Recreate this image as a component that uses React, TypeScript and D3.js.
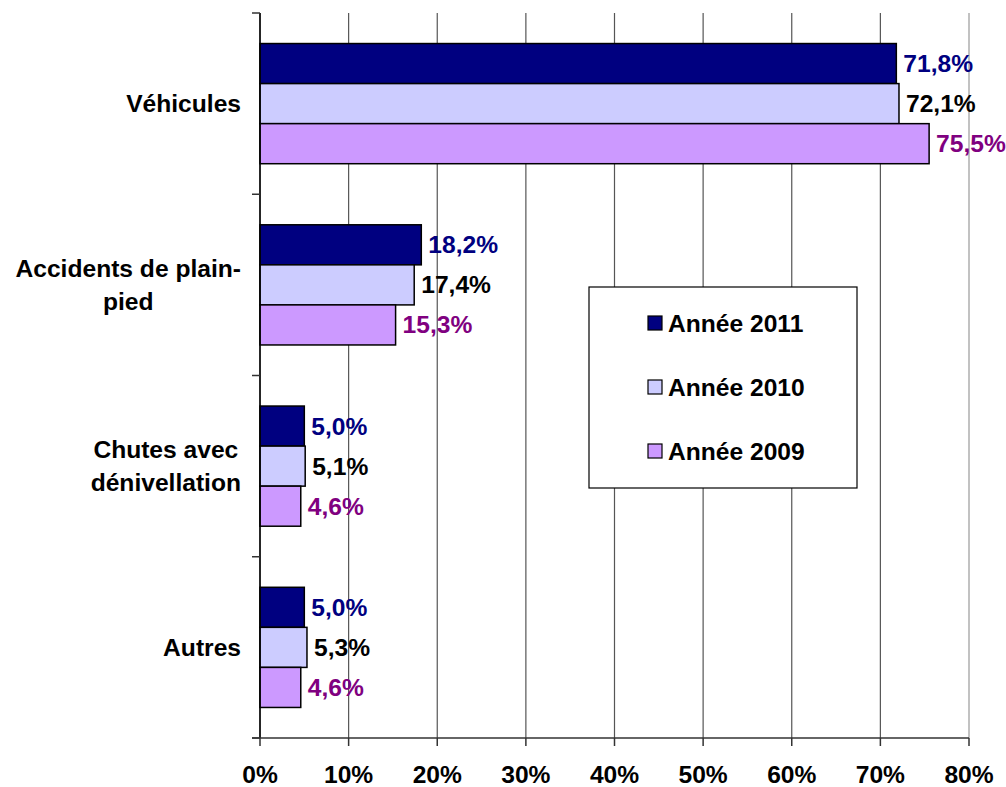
import React from "react";
import * as d3 from "d3";

const categories = ["Véhicules", "Accidents de plain-pied", "Chutes avec dénivellation", "Autres"];
const categoryLines = [["Véhicules"], ["Accidents de plain-", "pied"], ["Chutes avec", "dénivellation"], ["Autres"]];
const series = ["Année 2011", "Année 2010", "Année 2009"];
const values2011 = [71.8, 18.2, 5.0, 5.0];
const values2010 = [72.1, 17.4, 5.1, 5.3];
const values2009 = [75.5, 15.3, 4.6, 4.6];
const xTicks = [0, 10, 20, 30, 40, 50, 60, 70, 80];

const fills = ["#000080", "#CCCCFF", "#CC99FF"];
const labelColors = ["#000080", "#000000", "#800080"];

const FONT = "'Liberation Sans', Arial, sans-serif";
const FS = 24.6;

function measure(txt: string): number {
  const c = document.createElement("canvas").getContext("2d");
  if (!c) return txt.length * 12;
  c.font = `bold ${FS}px 'Liberation Sans', Arial, sans-serif`;
  return c.measureText(txt).width;
}

export default function App() {
  const W = 1006, H = 787;
  const left = 260, right = 969, top = 13, bottom = 738;
  const x = d3.scaleLinear().domain([0, 80]).range([left, right]);
  const y = d3.scaleBand<string>().domain(categories).range([top, bottom]).paddingInner(0.337).paddingOuter(0.1685);
  const y1 = d3.scaleBand<string>().domain(series).range([0, y.bandwidth()]);
  const data = [values2011, values2010, values2009];
  const step = (bottom - top) / categories.length;
  const fmt = (v: number) => v.toFixed(1).replace(".", ",") + "%";
  const labelRight = 241;

  return (
    <svg width={W} height={H} style={{ position: "absolute", left: 0, top: 0 }} fontFamily={FONT}>
      <rect width={W} height={H} fill="#fff" />
      {xTicks.map((t) => (
        <line key={"g" + t} x1={x(t)} x2={x(t)} y1={top} y2={bottom} stroke={t === 80 ? "#999" : "#555"} strokeWidth={1.2} />
      ))}
      {categories.map((c, i) =>
        series.map((s, j) => (
          <rect key={c + s} x={x(0)} y={(y(c) as number) + (y1(s) as number)} width={x(data[j][i]) - x(0)} height={y1.bandwidth()}
            fill={fills[j]} stroke="#000" strokeWidth={1.5} />
        ))
      )}
      {categories.map((c, i) =>
        series.map((s, j) => (
          <text key={"l" + c + s} x={x(data[j][i]) + 7} y={(y(c) as number) + (y1(s) as number) + y1.bandwidth() / 2}
            dominantBaseline="central" fontSize={FS} fontWeight="bold" fill={labelColors[j]}>
            {fmt(data[j][i])}
          </text>
        ))
      )}
      <line x1={left} x2={left} y1={top} y2={bottom} stroke="#000" strokeWidth={1.5} />
      <line x1={left - 8} x2={right} y1={bottom} y2={bottom} stroke="#333" strokeWidth={1.5} />
      {d3.range(categories.length + 1).map((k) => (
        <line key={"yt" + k} x1={left - 8} x2={left} y1={top + k * step} y2={top + k * step} stroke="#333" strokeWidth={1.5} />
      ))}
      {xTicks.map((t) => (
        <g key={"xt" + t}>
          <line x1={x(t)} x2={x(t)} y1={bottom} y2={bottom + 8} stroke="#333" strokeWidth={1.5} />
          <text x={x(t)} y={783} textAnchor="middle" fontSize={FS} fontWeight="bold" fill="#000">{t + "%"}</text>
        </g>
      ))}
      {categories.map((c, i) => {
        const lines = categoryLines[i];
        const cy = (y(c) as number) + y.bandwidth() / 2;
        const lh = 33;
        const maxW = Math.max(...lines.map(measure));
        const cx = labelRight - maxW / 2;
        return (
          <text key={"c" + c} textAnchor="middle" fontSize={FS} fontWeight="bold" fill="#000">
            {lines.map((ln, k) => (
              <tspan key={k} x={cx} y={cy + (k - (lines.length - 1) / 2) * lh} dominantBaseline="central">{ln}</tspan>
            ))}
          </text>
        );
      })}
      <rect x={589} y={287} width={268} height={201} fill="#fff" stroke="#000" strokeWidth={1.2} />
      {series.map((s, j) => (
        <g key={"lg" + s}>
          <rect x={648} y={316 + j * 64} width={14} height={14} fill={fills[j]} stroke="#000" strokeWidth={1.2} />
          <text x={668} y={323 + j * 64} dominantBaseline="central" fontSize={FS} fontWeight="bold" fill="#000">{s}</text>
        </g>
      ))}
    </svg>
  );
}
